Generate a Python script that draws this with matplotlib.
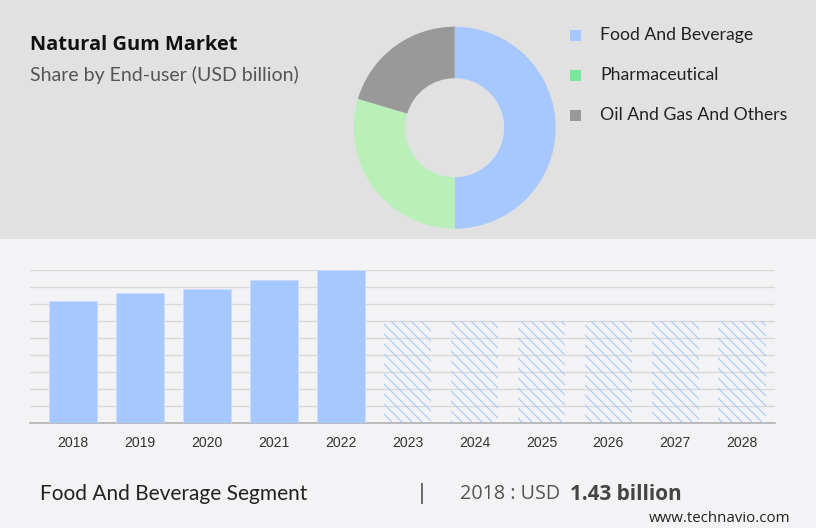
"""Natural Gum Market infographic: share donut on top, yearly bars below."""
import matplotlib
matplotlib.use("Agg")
import matplotlib.pyplot as plt
from matplotlib.patches import Rectangle

W, H = 816, 528
DPI = 120  # hatch tile scales with dpi, 120 gives the 10 px line spacing

segments = ["Food And Beverage", "Pharmaceutical", "Oil And Gas And Others"]
shares = [50, 29.6, 20.4]
years = [2018, 2019, 2020, 2021, 2022, 2023, 2024, 2025, 2026, 2027, 2028]
actual_values = [1.43, 1.53, 1.57, 1.68, 1.80]
forecast_values = [1.20, 1.20, 1.20, 1.20, 1.20, 1.20]
grid_ticks = [0, 0.2, 0.4, 0.6, 0.8, 1.0, 1.2, 1.4, 1.6, 1.8]

BLUE = "#a6c8ff"
DONUT_COLORS = [BLUE, "#b9f0b9", "#999999"]
LEGEND_COLORS = [BLUE, "#79e79b", "#999999"]


def px(size):
    # font size in pixels -> points
    return size * 72 / DPI


def box(left, top, right, bottom):
    # pixel box (y down) -> figure fractions
    return [left / W, 1 - bottom / H, (right - left) / W, (bottom - top) / H]


fig = plt.figure(figsize=(W / DPI, H / DPI), dpi=DPI, facecolor="#f3f3f5")

# full-figure layer in pixel coordinates for bands and text
bg = fig.add_axes([0, 0, 1, 1])
bg.set_xlim(0, W)
bg.set_ylim(H, 0)
bg.axis("off")
bg.add_patch(Rectangle((0, 0), W, 239, facecolor="#e1e1e1", edgecolor="none"))

bg.text(30, 44.5, "Natural Gum Market", fontsize=px(20), family="Open Sans",
        fontweight="bold", color="#111111", va="center")
bg.text(30, 75, "Share by End-user (USD billion)", fontsize=px(19.5), family="Lato",
        color="#555555", va="center")

for i, (name, color) in enumerate(zip(segments, LEGEND_COLORS)):
    y = 35 + 40 * i
    bg.add_patch(Rectangle((570, y - 5.5), 11, 11, facecolor=color, edgecolor="none"))
    bg.text(600, y, name, fontsize=px(17.6), family="Lato", color="#222222", va="center")

bg.text(40, 494, "Food And Beverage Segment", fontsize=px(20.9), family="Lato",
        color="#222222", va="center")
bg.text(422, 493, "|", fontsize=px(22), family="Open Sans", color="#444444",
        va="center", ha="center")
bg.text(460, 494, "2018 : USD", fontsize=px(19.8), family="Open Sans", color="#555555",
        va="center")
bg.text(570, 494, "1.43 billion", fontsize=px(20.8), family="Open Sans", fontweight="bold",
        color="#444444", va="center")
bg.text(790, 518.5, "www.technavio.com", fontsize=px(15), family="Open Sans", color="#222222",
        va="center", ha="right")

# donut
ax_pie = fig.add_axes(box(353.7, 26.7, 555.7, 228.7))
ax_pie.pie(shares, colors=DONUT_COLORS, startangle=90, counterclock=False, radius=1,
           wedgeprops={"width": 0.51, "linewidth": 0})
ax_pie.set_xlim(-1, 1)
ax_pie.set_ylim(-1, 1)

# bars
ax = fig.add_axes(box(30, 269.8, 775, 423.2))
ax.patch.set_visible(False)
n_actual = len(actual_values)
ax.bar(range(n_actual), actual_values, 0.71, color=BLUE, edgecolor="#c9dcff",
       linewidth=0.6, zorder=3)
plt.rcParams["hatch.linewidth"] = 0.65
ax.bar(range(n_actual, len(years)), forecast_values, 0.71, facecolor="none", edgecolor=BLUE,
       hatch="\\\\\\\\", linewidth=0, zorder=3)

ax.set_xlim(-0.645, 10.49)
ax.set_ylim(0, 1.8)
ax.set_yticks(grid_ticks)
ax.set_xticks(range(len(years)))
ax.set_xticklabels(years, family="Liberation Sans", fontsize=px(14), color="#333333")
ax.tick_params(axis="both", length=0)
ax.tick_params(axis="x", pad=7.5)
ax.tick_params(axis="y", labelleft=False)
ax.grid(axis="y", color="#d8d8d8", linewidth=0.8, zorder=1)
for side in ["top", "left", "right"]:
    ax.spines[side].set_visible(False)
ax.spines["bottom"].set_color("#aaaaaa")
ax.spines["bottom"].set_linewidth(0.9)

fig.savefig("out.png", dpi=DPI, facecolor=fig.get_facecolor())
plt.close(fig)
